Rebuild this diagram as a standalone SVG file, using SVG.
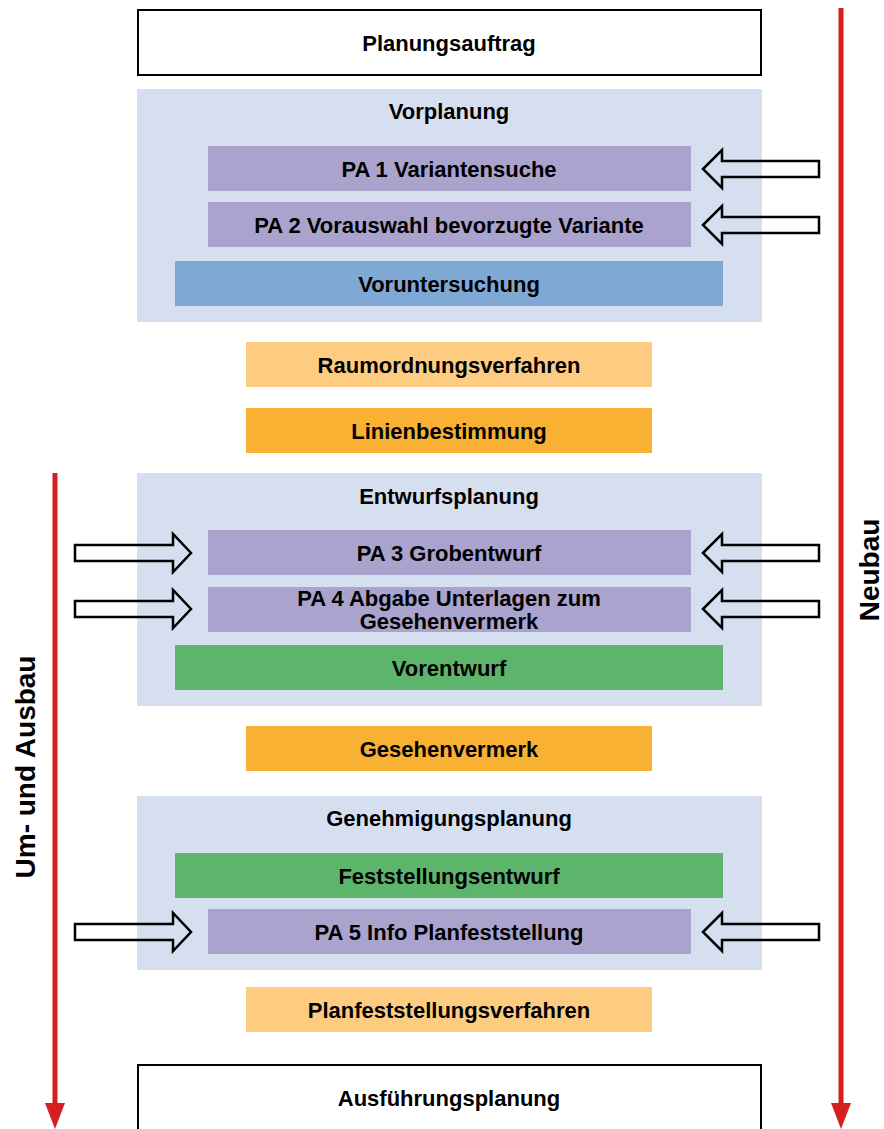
<svg xmlns="http://www.w3.org/2000/svg" width="884" height="1129" viewBox="0 0 884 1129">
<style>
text{font-family:"Liberation Sans",Arial,sans-serif;font-weight:bold;fill:#000;text-anchor:middle;dominant-baseline:central;font-size:22px}
.side{font-size:28px}
.white{fill:#fff;stroke:#000;stroke-width:2}
.cont{fill:#d6dff0}
.pa{fill:#a9a3cd}
.blue{fill:#80a8d4}
.lo{fill:#fdcc80}
.or{fill:#f8b133}
.gr{fill:#5db56b}
.red{stroke:#d42020;stroke-width:5;fill:none}
.redh{fill:#d42020}
.blk{fill:none;stroke:#000;stroke-width:2.5;stroke-linejoin:miter}
</style>
<defs>
<path id="la" d="M0,0 L19,-19 L19,-8 L116,-8 L116,8 L19,8 L19,19 Z"/>
<path id="ra" d="M0,-8 L98,-8 L98,-19 L116,0 L98,19 L98,8 L0,8 Z"/>
</defs>
<g id="planungsauftrag"><rect class="white" x="138" y="10" width="623" height="65"/><text x="449" y="43">Planungsauftrag</text></g>
<g id="vorplanung"><rect class="cont" x="137" y="89" width="625" height="233"/><text x="449" y="111">Vorplanung</text></g>
<g id="pa1"><rect class="pa" x="208" y="146" width="483" height="45"/><text x="449" y="169">PA 1 Variantensuche</text></g>
<g id="pa2"><rect class="pa" x="208" y="202" width="483" height="45"/><text x="449" y="225">PA 2 Vorauswahl bevorzugte Variante</text></g>
<g id="voruntersuchung"><rect class="blue" x="175" y="261" width="548" height="45"/><text x="449" y="284">Voruntersuchung</text></g>
<g id="raumordnungsverfahren"><rect class="lo" x="246" y="342" width="406" height="45"/><text x="449" y="365">Raumordnungsverfahren</text></g>
<g id="linienbestimmung"><rect class="or" x="246" y="408" width="406" height="45"/><text x="449" y="431">Linienbestimmung</text></g>
<g id="entwurfsplanung"><rect class="cont" x="137" y="473" width="625" height="233"/><text x="449" y="496">Entwurfsplanung</text></g>
<g id="pa3"><rect class="pa" x="208" y="530" width="483" height="45"/><text x="449" y="553">PA 3 Grobentwurf</text></g>
<g id="pa4"><rect class="pa" x="208" y="587" width="483" height="45"/><text x="449" y="598">PA 4 Abgabe Unterlagen zum</text><text x="449" y="621">Gesehenvermerk</text></g>
<g id="vorentwurf"><rect class="gr" x="175" y="645" width="548" height="45"/><text x="449" y="668">Vorentwurf</text></g>
<g id="gesehenvermerk"><rect class="or" x="246" y="726" width="406" height="45"/><text x="449" y="749">Gesehenvermerk</text></g>
<g id="genehmigungsplanung"><rect class="cont" x="137" y="796" width="625" height="174"/><text x="449" y="818">Genehmigungsplanung</text></g>
<g id="feststellungsentwurf"><rect class="gr" x="175" y="853" width="548" height="45"/><text x="449" y="876">Feststellungsentwurf</text></g>
<g id="pa5"><rect class="pa" x="208" y="909" width="483" height="45"/><text x="449" y="932">PA 5 Info Planfeststellung</text></g>
<g id="planfeststellungsverfahren"><rect class="lo" x="246" y="987" width="406" height="45"/><text x="449" y="1010">Planfeststellungsverfahren</text></g>
<g id="ausfuehrungsplanung"><rect class="white" x="138" y="1065" width="623" height="70"/><text x="449" y="1098">Ausführungsplanung</text></g>
<g id="neubau"><text class="side" transform="translate(869,570) rotate(-90)">Neubau</text></g>
<g id="umausbau"><text class="side" transform="translate(25,767) rotate(-90)">Um- und Ausbau</text></g>
<g id="connectors">
<line class="red" x1="841" y1="8" x2="841" y2="1105"/>
<polygon class="redh" points="831,1103 851,1103 841,1129"/>
<line class="red" x1="55" y1="473" x2="55" y2="1105"/>
<polygon class="redh" points="45,1103 65,1103 55,1129"/>
<use href="#la" class="blk" x="703" y="169"/>
<use href="#la" class="blk" x="703" y="225"/>
<use href="#la" class="blk" x="703" y="553"/>
<use href="#la" class="blk" x="703" y="609"/>
<use href="#la" class="blk" x="703" y="932"/>
<use href="#ra" class="blk" x="75" y="553"/>
<use href="#ra" class="blk" x="75" y="609"/>
<use href="#ra" class="blk" x="75" y="932"/>
</g>
</svg>
